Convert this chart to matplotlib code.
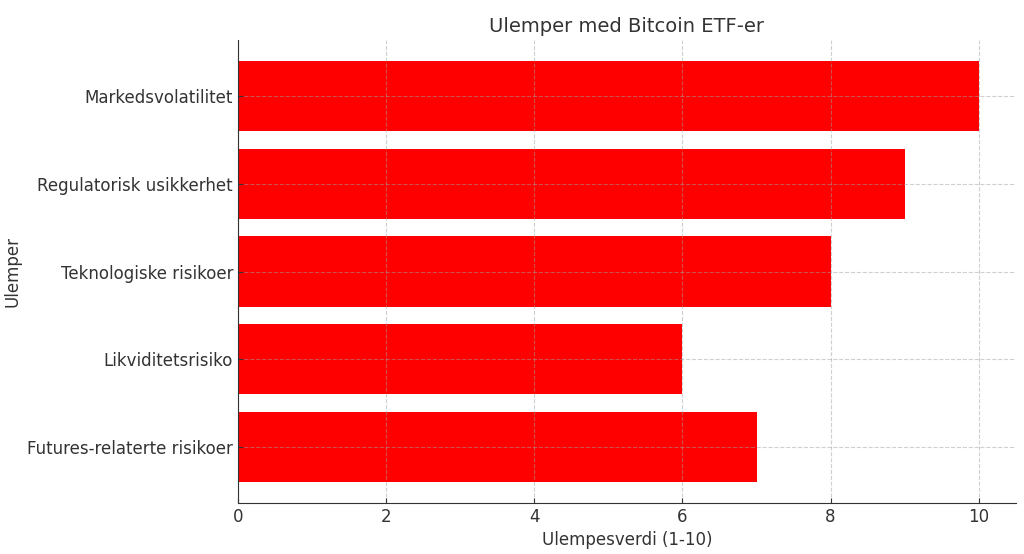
import matplotlib
matplotlib.use("Agg")
import matplotlib.pyplot as plt

categories = ["Futures-relaterte risikoer", "Likviditetsrisiko", "Teknologiske risikoer",
              "Regulatorisk usikkerhet", "Markedsvolatilitet"]
values = [7, 6, 8, 9, 10]

txt = "#333333"
plt.rcParams.update({
    "text.color": txt, "axes.labelcolor": txt,
    "xtick.color": txt, "ytick.color": txt, "axes.edgecolor": txt,
    "font.family": ["DejaVu Sans"],
})

fig = plt.figure(figsize=(10.24, 5.54), dpi=100)
ax = fig.add_axes([0.2324, 0.092, 0.7596, 0.8358])
ax.barh(categories, values, color="red", height=0.8, zorder=1)
ax.set_title("Ulemper med Bitcoin ETF-er", fontsize=14, color=txt)
ax.set_xlabel("Ulempesverdi (1-10)", fontsize=12)
ax.set_ylabel("Ulemper", fontsize=12)
ax.tick_params(labelsize=12, direction="in")
ax.set_axisbelow("line")
ax.grid(True, linestyle="--", color="#a0a0a0", alpha=0.5, linewidth=0.8)
for s in ["top", "right"]:
    ax.spines[s].set_visible(False)
for s in ["left", "bottom"]:
    ax.spines[s].set_zorder(3)
fig.savefig("out.png", dpi=100)
